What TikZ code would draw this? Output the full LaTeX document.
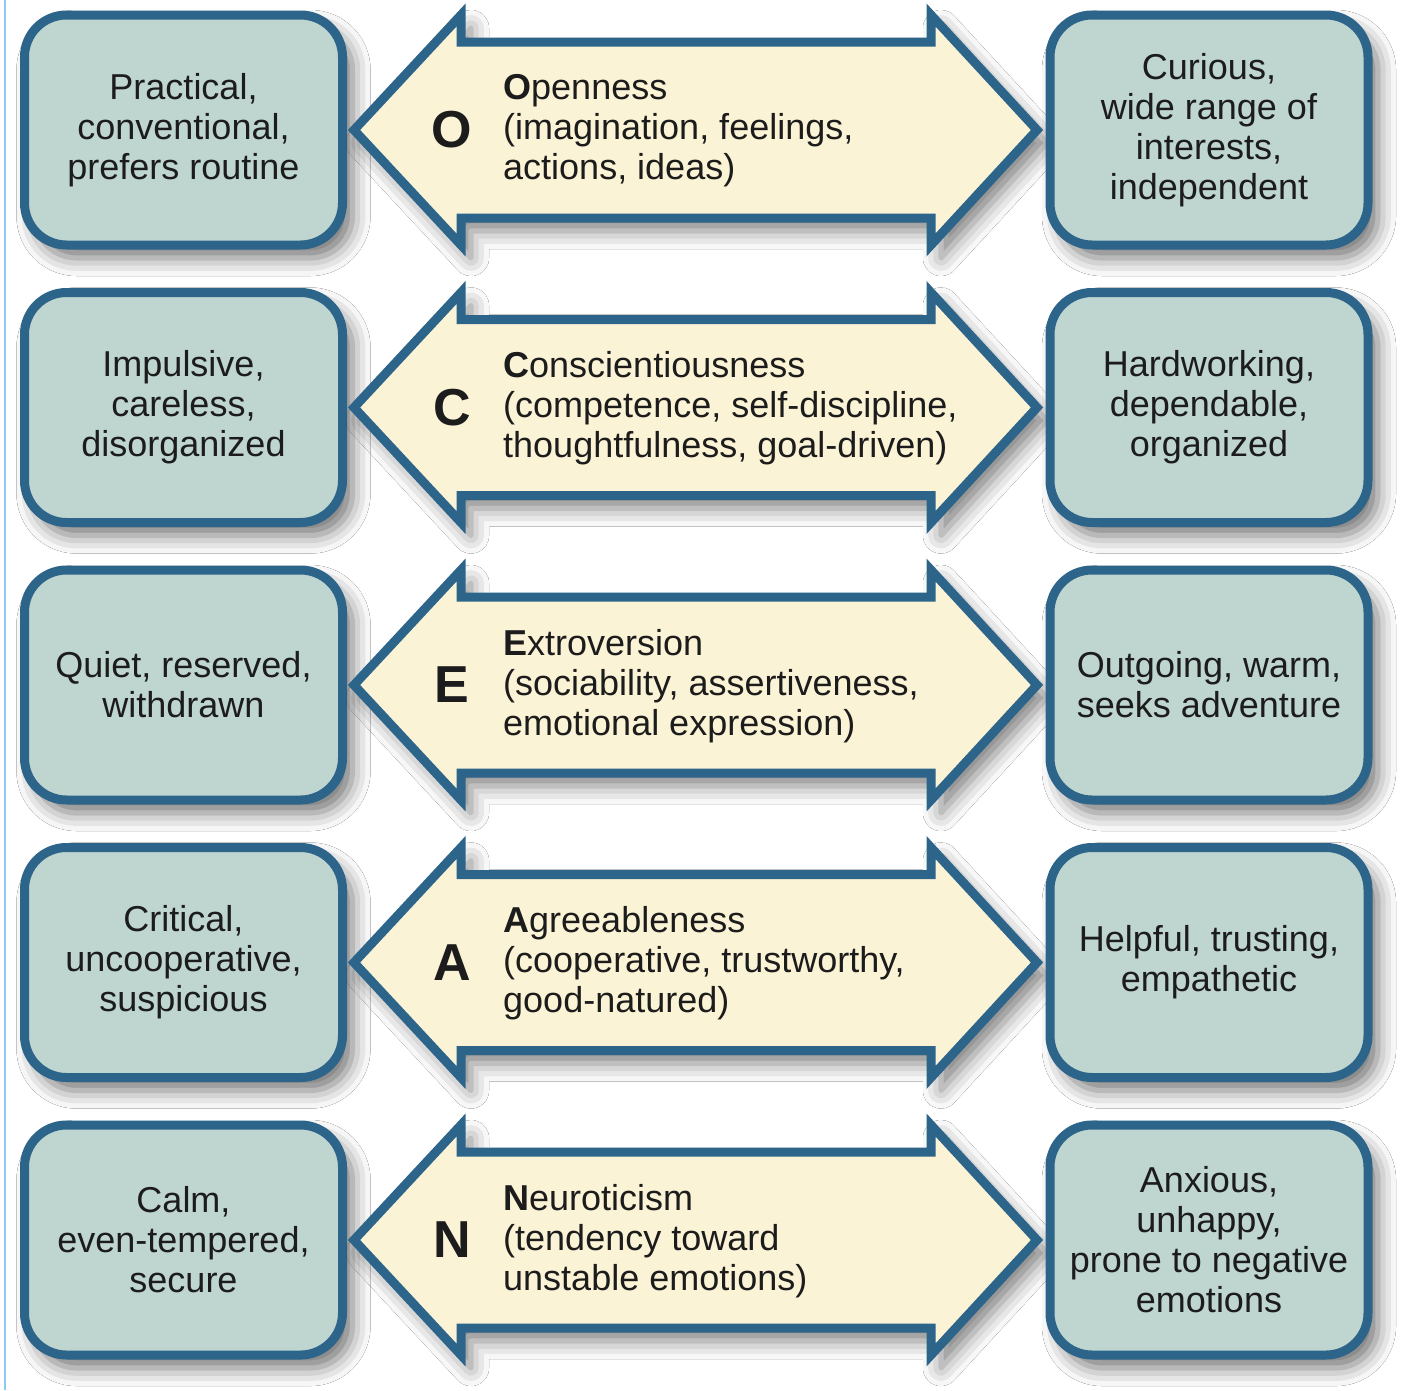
\documentclass[tikz,border=0pt]{standalone}
\usepackage{fontspec}
\setmainfont{Liberation Sans}
\usetikzlibrary{shadows.blur}
\definecolor{bord}{RGB}{44,100,138}
\definecolor{boxfill}{RGB}{191,213,208}
\definecolor{arrfill}{RGB}{251,243,214}
\definecolor{txt}{RGB}{28,28,28}
\definecolor{edgeline}{RGB}{140,203,240}
\tikzset{
  trait/.style={draw=bord, line width=9pt, fill=boxfill, rounded corners=42pt,
    minimum width=318pt, minimum height=230pt, inner sep=0pt, align=center,
    text=txt, font=\fontsize{36}{40}\selectfont,
    blur shadow={shadow xshift=10pt, shadow yshift=-13pt, shadow blur radius=18pt, shadow opacity=55}},
  dimarrow/.style={draw=bord, line width=9pt, fill=arrfill, line join=miter,
    blur shadow={shadow xshift=10pt, shadow yshift=-13pt, shadow blur radius=18pt, shadow opacity=50}},
  bigletter/.style={text=txt, font=\fontsize{52}{56}\selectfont\bfseries, inner sep=0pt},
  desc/.style={text=txt, font=\fontsize{36}{40}\selectfont, align=left, anchor=west, inner sep=0pt}
}
\begin{document}
\begin{tikzpicture}[x=1pt,y=-1pt]
\useasboundingbox (0,0) rectangle (1416,1390);
\fill[white] (0,0) rectangle (1416,1390);
\draw[edgeline, line width=2pt] (5,0) -- (5,1390);

% left boxes
\node[trait] (l1) at (183.5,130)   {Practical,\\conventional,\\prefers routine};
\node[trait] (l2) at (183.5,407.5) {Impulsive,\\careless,\\disorganized};
\node[trait] (l3) at (183.5,685)   {Quiet, reserved,\\withdrawn};
\node[trait] (l4) at (183.5,962.5) {Critical,\\uncooperative,\\suspicious};
\node[trait] (l5) at (183.5,1240)  {Calm,\\even-tempered,\\secure};

% double arrows
\foreach \c in {130,407.5,685,962.5,1240}{
  \draw[dimarrow] (354,\c) -- (461,\c-115) -- (461,\c-88) -- (931,\c-88) -- (931,\c-115)
     -- (1037,\c) -- (931,\c+115) -- (931,\c+88) -- (461,\c+88) -- (461,\c+115) -- cycle;
}

% letters and descriptions
\node[bigletter] (k1) at (452,130) {O};
\node[desc] (d1) at (503,131) {{\bfseries O}penness\\(imagination, feelings,\\actions, ideas)};
\node[bigletter] (k2) at (452,407.5) {C};
\node[desc] (d2) at (503,408.5) {{\bfseries C}onscientiousness\\(competence, self-discipline,\\thoughtfulness, goal-driven)};
\node[bigletter] (k3) at (452,685) {E};
\node[desc] (d3) at (503,686) {{\bfseries E}xtroversion\\(sociability, assertiveness,\\emotional expression)};
\node[bigletter] (k4) at (452,962.5) {A};
\node[desc] (d4) at (503,963.5) {{\bfseries A}greeableness\\(cooperative, trustworthy,\\good-natured)};
\node[bigletter] (k5) at (452,1240) {N};
\node[desc] (d5) at (503,1241) {{\bfseries N}euroticism\\(tendency toward\\unstable emotions)};

% right boxes
\node[trait] (r1) at (1209,130)   {Curious,\\wide range of\\interests,\\independent};
\node[trait] (r2) at (1209,407.5) {Hardworking,\\dependable,\\organized};
\node[trait] (r3) at (1209,685)   {Outgoing, warm,\\seeks adventure};
\node[trait] (r4) at (1209,962.5) {Helpful, trusting,\\empathetic};
\node[trait] (r5) at (1209,1240)  {Anxious,\\unhappy,\\prone to negative\\emotions};
\end{tikzpicture}
\end{document}
